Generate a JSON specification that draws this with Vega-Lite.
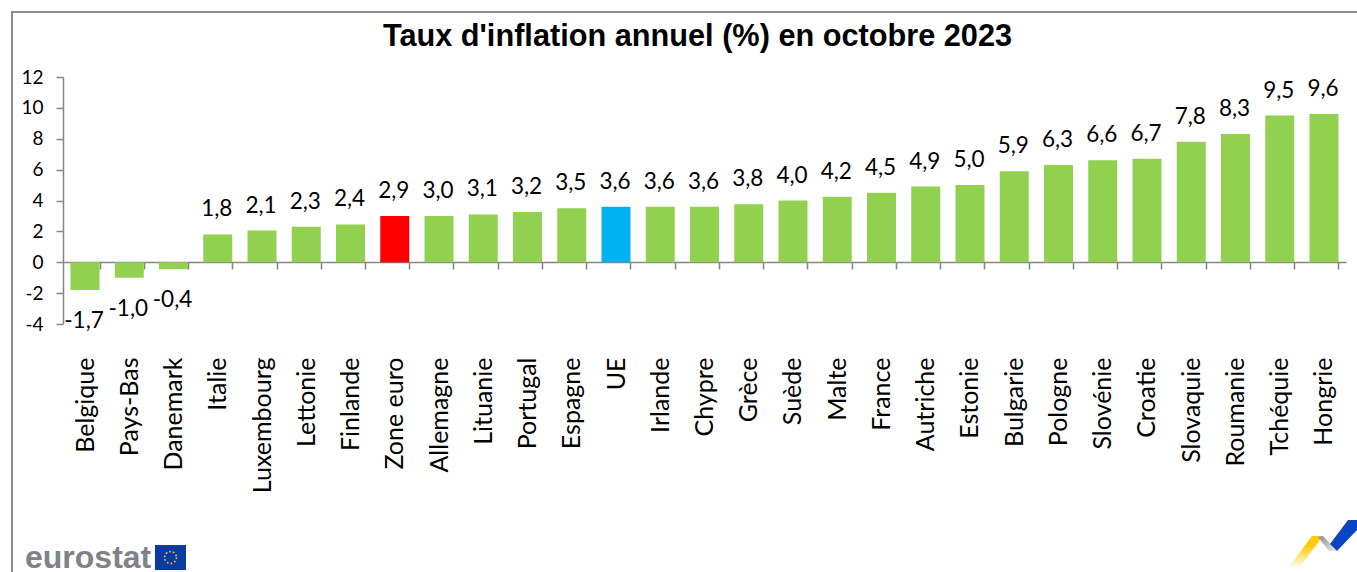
{
"$schema":"https://vega.github.io/schema/vega-lite/v6.json",
"width":1283,"height":247,
"autosize":{"type":"none"},
"padding":{"left":63,"top":77,"right":11,"bottom":248},
"background":"white",
"config":{"view":{"stroke":null}},
"title":{"text":"Taux d'inflation annuel (%) en octobre 2023","font":"Liberation Sans","fontSize":30.7,"fontWeight":"bold","color":"#000000","anchor":"middle","offset":-42,"dx":-7},
"data":{"values":[
{"pays":"Belgique","valeur":-1.8,"etiquette":"-1,7","groupe":"pays"},
{"pays":"Pays-Bas","valeur":-1.0,"etiquette":"-1,0","groupe":"pays"},
{"pays":"Danemark","valeur":-0.45,"etiquette":"-0,4","groupe":"pays"},
{"pays":"Italie","valeur":1.8,"etiquette":"1,8","groupe":"pays"},
{"pays":"Luxembourg","valeur":2.05,"etiquette":"2,1","groupe":"pays"},
{"pays":"Lettonie","valeur":2.3,"etiquette":"2,3","groupe":"pays"},
{"pays":"Finlande","valeur":2.45,"etiquette":"2,4","groupe":"pays"},
{"pays":"Zone euro","valeur":3.0,"etiquette":"2,9","groupe":"zone euro"},
{"pays":"Allemagne","valeur":3.0,"etiquette":"3,0","groupe":"pays"},
{"pays":"Lituanie","valeur":3.1,"etiquette":"3,1","groupe":"pays"},
{"pays":"Portugal","valeur":3.25,"etiquette":"3,2","groupe":"pays"},
{"pays":"Espagne","valeur":3.5,"etiquette":"3,5","groupe":"pays"},
{"pays":"UE","valeur":3.6,"etiquette":"3,6","groupe":"UE"},
{"pays":"Irlande","valeur":3.6,"etiquette":"3,6","groupe":"pays"},
{"pays":"Chypre","valeur":3.6,"etiquette":"3,6","groupe":"pays"},
{"pays":"Grèce","valeur":3.75,"etiquette":"3,8","groupe":"pays"},
{"pays":"Suède","valeur":4.0,"etiquette":"4,0","groupe":"pays"},
{"pays":"Malte","valeur":4.25,"etiquette":"4,2","groupe":"pays"},
{"pays":"France","valeur":4.5,"etiquette":"4,5","groupe":"pays"},
{"pays":"Autriche","valeur":4.9,"etiquette":"4,9","groupe":"pays"},
{"pays":"Estonie","valeur":5.0,"etiquette":"5,0","groupe":"pays"},
{"pays":"Bulgarie","valeur":5.9,"etiquette":"5,9","groupe":"pays"},
{"pays":"Pologne","valeur":6.3,"etiquette":"6,3","groupe":"pays"},
{"pays":"Slovénie","valeur":6.6,"etiquette":"6,6","groupe":"pays"},
{"pays":"Croatie","valeur":6.7,"etiquette":"6,7","groupe":"pays"},
{"pays":"Slovaquie","valeur":7.8,"etiquette":"7,8","groupe":"pays"},
{"pays":"Roumanie","valeur":8.3,"etiquette":"8,3","groupe":"pays"},
{"pays":"Tchéquie","valeur":9.5,"etiquette":"9,5","groupe":"pays"},
{"pays":"Hongrie","valeur":9.6,"etiquette":"9,6","groupe":"pays"}
]},
"encoding":{
"x":{"field":"pays","type":"nominal","sort":null,"title":null,
 "scale":{"paddingInner":0.345,"paddingOuter":0.17},
 "axis":{"offset":-62,"domainColor":"#868686","domainWidth":1.5,"tickColor":"#868686","tickWidth":1.5,"tickSize":7,"tickBand":"extent","labelAngle":-90,"labelAlign":"right","labelBaseline":"middle","labelPadding":88,"labelFont":"Lato","labelFontSize":25,"labelColor":"#000000","labelOverlap":false,"labelLimit":0,"grid":false,"zindex":0}},
"y":{"field":"valeur","type":"quantitative","title":null,
 "scale":{"domain":[-4,12],"nice":false,"zero":false},
 "axis":{"values":[-4,-2,0,2,4,6,8,10,12],"labelExpr":"'' + datum.value","domainColor":"#868686","domainWidth":1.5,"tickColor":"#868686","tickWidth":1.5,"tickSize":7,"labelPadding":13,"labelFont":"Lato","labelFontSize":19,"labelColor":"#000000","grid":false}}
},
"layer":[
{"mark":{"type":"bar"},"encoding":{"color":{"field":"groupe","type":"nominal","legend":null,"scale":{"domain":["pays","zone euro","UE"],"range":["#92D050","#FF0000","#00B0F0"]}}}},
{"transform":[{"filter":"datum.valeur >= 0"}],"mark":{"type":"text","font":"Lato","fontSize":22.5,"color":"#000000","baseline":"middle","dy":-25,"dx":-1},"encoding":{"text":{"field":"etiquette","type":"nominal"}}},
{"transform":[{"filter":"datum.valeur < 0"}],"mark":{"type":"text","font":"Lato","fontSize":22.5,"color":"#000000","baseline":"middle","dy":31,"dx":-1},"encoding":{"text":{"field":"etiquette","type":"nominal"}}},
{"data":{"values":[{"element":"cadre"}]},"mark":{"type":"rule","color":"#8C8C8C","strokeWidth":2},"encoding":{"x":{"value":-51},"y":{"value":-65},"y2":{"value":495}}},
{"data":{"values":[{"element":"cadre"}]},"mark":{"type":"rule","color":"#8C8C8C","strokeWidth":2},"encoding":{"y":{"value":-65},"x":{"value":-52},"x2":{"value":1294}}},
{"data":{"values":[{"element":"logo"}]},"mark":{"type":"text","text":"eurostat","font":"Liberation Sans","fontWeight":"bold","fontSize":32,"color":"#7F8388","align":"left","baseline":"alphabetic"},"encoding":{"x":{"value":-38},"y":{"value":491}}},
{"data":{"values":[{"element":"logo"}]},"mark":{"type":"rect","color":"#0B3B9E"},"encoding":{"x":{"value":92},"x2":{"value":123},"y":{"value":468},"y2":{"value":493}}},
{"data":{"values":[{"element":"logo"}]},"mark":{"type":"point","shape":"circle","size":140,"filled":false,"opacity":1,"stroke":"#E8C93A","strokeWidth":1.6,"strokeDash":[1.6,2.1]},"encoding":{"x":{"value":107.5},"y":{"value":480.5}}},
{"data":{"values":[{"element":"logo"}]},"mark":{"type":"point","shape":"M1249 459L1260 459L1236 491L1225 491Z","size":4,"filled":true,"opacity":1,"strokeWidth":0,"fill":{"gradient":"linear","x1":0,"y1":0,"x2":0,"y2":1,"stops":[{"offset":0.3,"color":"#FFCC00"},{"offset":1,"color":"#FFFFFF"}]}},"encoding":{"x":{"value":0},"y":{"value":0}}},
{"data":{"values":[{"element":"logo"}]},"mark":{"type":"point","shape":"M1255 460L1260 459L1274 474L1266 474Z","size":4,"filled":true,"opacity":1,"strokeWidth":0,"fill":{"gradient":"linear","x1":0,"y1":0,"x2":1,"y2":1,"stops":[{"offset":0,"color":"#8A8A8A"},{"offset":1,"color":"#EEEEEE"}]}},"encoding":{"x":{"value":0},"y":{"value":0}}},
{"data":{"values":[{"element":"logo"}]},"mark":{"type":"point","shape":"M1285 443L1294 443L1294 453L1274 474L1267 467Z","size":4,"filled":true,"opacity":1,"strokeWidth":0,"fill":"#0B45C4"},"encoding":{"x":{"value":0},"y":{"value":0}}}
]
}
